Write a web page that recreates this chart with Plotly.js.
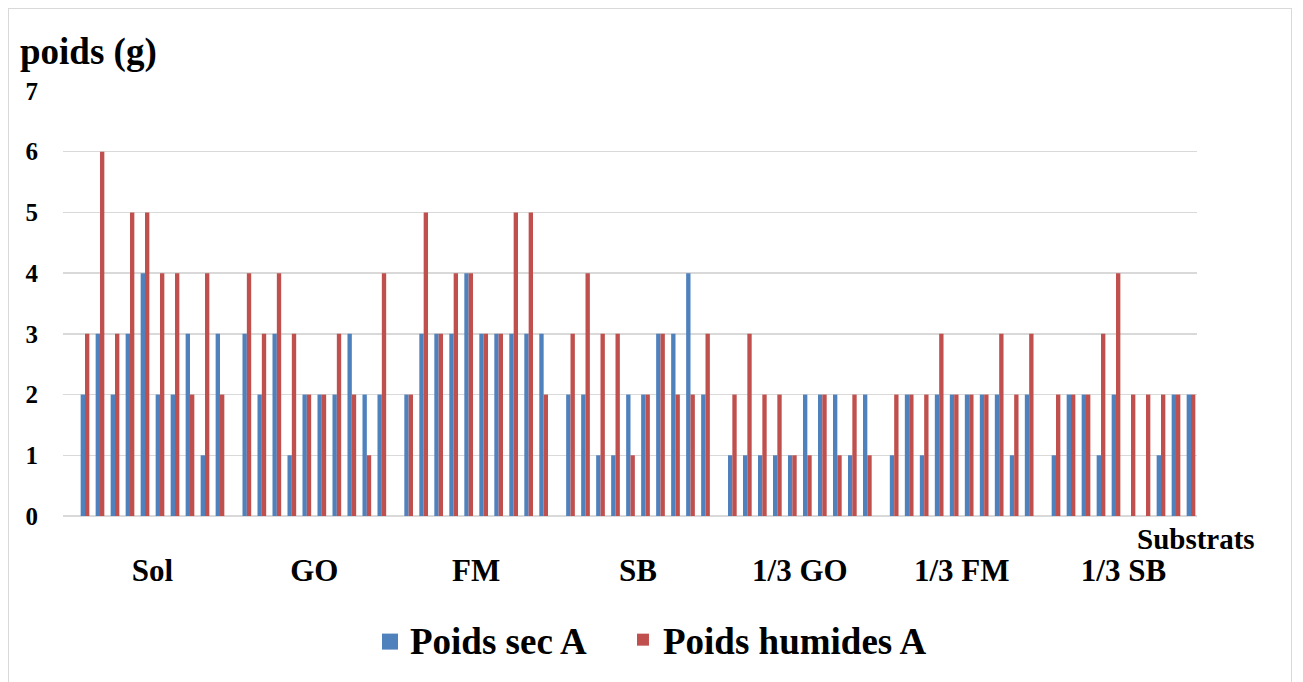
<!DOCTYPE html>
<html>
<head>
<meta charset="utf-8">
<script src="https://cdn.plot.ly/plotly-3.0.1.min.js"></script>
<style>
  html, body { margin: 0; padding: 0; background: #ffffff; }
  #wrap { position: relative; width: 1303px; height: 682px; overflow: hidden; }
  #frame { position: absolute; left: 8px; top: 8px; width: 1284px; height: 690px; border: 1px solid #d9d9d9; box-sizing: border-box; pointer-events: none; }
  #chart { position: absolute; left: 0; top: 0; width: 1303px; height: 682px; }
</style>
</head>
<body>
<div id="wrap">
  <div id="chart"></div>
  <div id="frame"></div>
</div>
<script>
// ---- data ----
const categories = ["Sol", "GO", "FM", "SB", "1/3 GO", "1/3 FM", "1/3 SB"];
const seriesNames = ["Poids sec A", "Poids humides A"];

const poidsSec = [
  [2, 3, 2, 3, 4, 2, 2, 3, 1, 3],   // Sol
  [3, 2, 3, 1, 2, 2, 2, 3, 2, 2],   // GO
  [2, 3, 3, 3, 4, 3, 3, 3, 3, 3],   // FM
  [2, 2, 1, 1, 2, 2, 3, 3, 4, 2],   // SB
  [1, 1, 1, 1, 1, 2, 2, 2, 1, 2],   // 1/3 GO
  [1, 2, 1, 2, 2, 2, 2, 2, 1, 2],   // 1/3 FM
  [1, 2, 2, 1, 2, 0, 0, 1, 2, 2]    // 1/3 SB
];
const poidsHumides = [
  [3, 6, 3, 5, 5, 4, 4, 2, 4, 2],   // Sol
  [4, 3, 4, 3, 2, 2, 3, 2, 1, 4],   // GO
  [2, 5, 3, 4, 4, 3, 3, 5, 5, 2],   // FM
  [3, 4, 3, 3, 1, 2, 3, 2, 2, 3],   // SB
  [2, 3, 2, 2, 1, 1, 2, 1, 2, 1],   // 1/3 GO
  [2, 2, 2, 3, 2, 2, 2, 3, 2, 3],   // 1/3 FM
  [2, 2, 2, 3, 4, 2, 2, 2, 2, 2]    // 1/3 SB
];
const yTicks = [0, 1, 2, 3, 4, 5, 6, 7];

// ---- layout helpers ----
const GROUP_STRIDE = 10.79;   // pair slots per category incl. gap
const xs = [], secVals = [], humVals = [];
categories.forEach((c, g) => {
  poidsSec[g].forEach((v, p) => {
    xs.push(g * GROUP_STRIDE + p);
    secVals.push(v);
    humVals.push(poidsHumides[g][p]);
  });
});
const tickPos = categories.map((c, g) => g * GROUP_STRIDE + 4.5);

const FONT = "Liberation Serif";
const LEGEND_FONT = { family: FONT, size: 37, color: "#000000", weight: "bold" };

const traces = [
  { type: "bar", name: seriesNames[0], x: xs, y: secVals, marker: { color: "#4F81BD" }, legend: "legend" },
  { type: "bar", name: seriesNames[1], x: xs, y: humVals, marker: { color: "#C0504D" }, legend: "legend2" }
];

const layout = {
  width: 1303, height: 682,
  paper_bgcolor: "rgba(0,0,0,0)", plot_bgcolor: "#ffffff",
  margin: { l: 63, r: 106, t: 91, b: 165, pad: 0 },
  barmode: "group", bargap: 0.42, bargroupgap: 0,
  font: { family: FONT, color: "#000000" },
  showlegend: true,
  legend: {
    orientation: "h", x: 0.2707, xanchor: "left", y: -0.289, yanchor: "middle",
    font: LEGEND_FONT, itemclick: false, bgcolor: "rgba(0,0,0,0)"
  },
  legend2: {
    orientation: "h", x: 0.4938, xanchor: "left", y: -0.289, yanchor: "middle",
    font: LEGEND_FONT, itemclick: false, bgcolor: "rgba(0,0,0,0)"
  },
  xaxis: {
    range: [-1.467, 6 * GROUP_STRIDE + 9.4],
    tickmode: "array", tickvals: tickPos, ticktext: categories,
    ticks: "", showgrid: false, zeroline: false, showline: false,
    ticklabelstandoff: 33,
    tickfont: { family: FONT, size: 31, color: "#000000", weight: "bold" },
    fixedrange: true
  },
  yaxis: {
    range: [0, 7], tickmode: "array", tickvals: yTicks,
    showgrid: true, gridcolor: "#d9d9d9", gridwidth: 1.5,
    zeroline: true, zerolinecolor: "#d9d9d9", zerolinewidth: 1.5,
    showline: false, ticks: "", ticklabelstandoff: 24,
    tickfont: { family: FONT, size: 25, color: "#000000", weight: "bold" },
    fixedrange: true
  },
  annotations: [
    { text: "poids (g)", xref: "paper", yref: "paper", x: -0.0397, y: 1.0915,
      xanchor: "left", yanchor: "middle", showarrow: false,
      font: { family: FONT, size: 37, color: "#000000", weight: "bold" } },
    { text: "Substrats", xref: "paper", yref: "paper", x: 0.999, y: -0.054,
      xanchor: "center", yanchor: "middle", showarrow: false,
      font: { family: FONT, size: 29, color: "#000000", weight: "bold" } }
  ]
};

// Square legend keys placed just left of each legend label (screen-space mapping,
// independent of any transforms on the legend groups).
function squareKeys(gd) {
  const KEY = 16, GAP = 12;
  gd.querySelectorAll(".legend .traces").forEach(tr => {
    const txt = tr.querySelector("text.legendtext");
    if (!txt) return;
    const tb = txt.getBoundingClientRect();
    const cx = tb.left - GAP - KEY / 2, cy = tb.top + tb.height / 2;
    tr.querySelectorAll(".legendpoints path").forEach(p => {
      p.removeAttribute("transform");
      p.style.transform = "none";
      p.style.strokeWidth = "0";
      const inv = p.parentNode.getScreenCTM().inverse();
      const svg = p.ownerSVGElement;
      const pt = svg.createSVGPoint();
      pt.x = cx - KEY / 2; pt.y = cy - KEY / 2;
      const a = pt.matrixTransform(inv);
      pt.x = cx + KEY / 2; pt.y = cy + KEY / 2;
      const b = pt.matrixTransform(inv);
      p.setAttribute("d", `M${a.x},${a.y}H${b.x}V${b.y}H${a.x}Z`);
    });
  });
}

Plotly.newPlot("chart", traces, layout, { displayModeBar: false, staticPlot: true }).then(gd => {
  squareKeys(gd);
  gd.on("plotly_afterplot", () => squareKeys(gd));
});
</script>
</body>
</html>
